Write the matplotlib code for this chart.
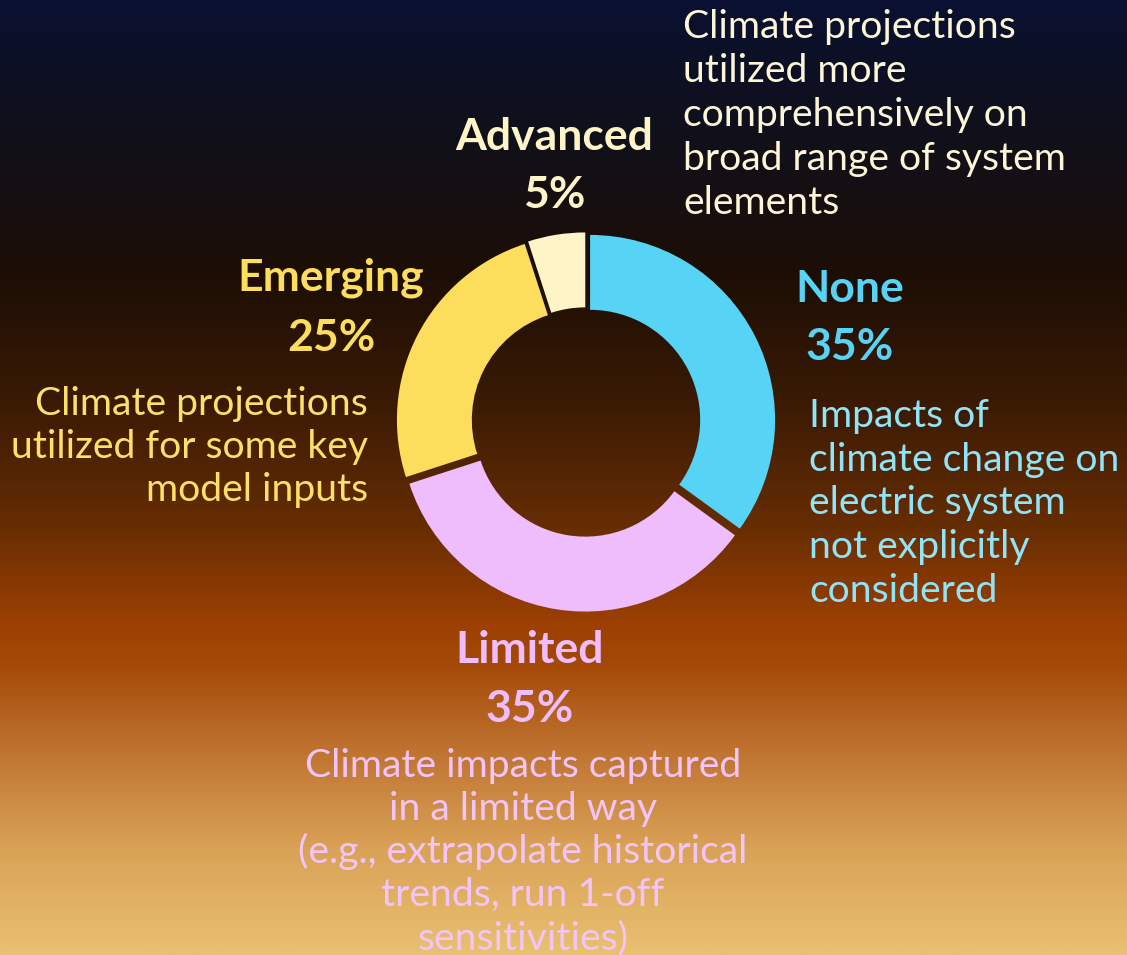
import numpy as np
import matplotlib
matplotlib.use("Agg")
import matplotlib.pyplot as plt
from matplotlib.colors import LinearSegmentedColormap

# ---- data ----
categories = ["None", "Limited", "Emerging", "Advanced"]
shares = [35, 35, 25, 5]
slice_colors = ["#57d3f5", "#f0bdfc", "#fcdd5c", "#fff4c8"]
desc_colors = ["#8fe4f8", "#f3c4f8", "#fbe06a", "#fdf5d8"]
descriptions = [
    "Impacts of\nclimate change on\nelectric system\nnot explicitly\nconsidered",
    "Climate impacts captured\nin a limited way\n(e.g., extrapolate historical\ntrends, run 1-off\nsensitivities)",
    "Climate projections\nutilized for some key\nmodel inputs",
    "Climate projections\nutilized more\ncomprehensively on\nbroad range of system\nelements",
]

W, H = 1127, 955
fig = plt.figure(figsize=(W / 100, H / 100), dpi=100)
ax = fig.add_axes([0, 0, 1, 1])
ax.set_xlim(0, W)
ax.set_ylim(0, H)
ax.set_aspect("equal")
ax.axis("off")

# background gradient (top -> bottom)
stops = [
    (0.00, "#0a1032"),
    (0.05, "#0c1128"),
    (0.16, "#121018"),
    (0.29, "#1d0e04"),
    (0.42, "#3a1a04"),
    (0.55, "#662d03"),
    (0.65, "#9a3f02"),
    (0.70, "#a64a08"),
    (0.79, "#c07432"),
    (0.89, "#d9a256"),
    (1.00, "#e9c070"),
]
cmap = LinearSegmentedColormap.from_list("bg", stops)
grad = np.linspace(0, 1, 600).reshape(-1, 1)
ax.imshow(grad, cmap=cmap, aspect="auto", extent=[0, W, 0, H], origin="upper", zorder=0)

# donut (explode offsets are in data units = pixels here)
cx, cy, R = 586, H - 422, 185
ax.pie(shares, colors=slice_colors, startangle=90, counterclock=False,
       radius=R, center=(cx, cy), explode=[4.6] * 4,
       wedgeprops=dict(width=R * 0.405, linewidth=0), frame=True)
ax.set_xlim(0, W)
ax.set_ylim(0, H)
ax.axis("off")

FONT = "Lato"
HEAD = 32
DESC = 28.2

def ytop(y):
    return H - y

# headings: (x, baseline_label, baseline_pct)
heads = [
    (850, 302, 360),
    (530, 663, 722),
    (331, 291, 351),
    (554, 150, 208),
]
for i, (x, b1, b2) in enumerate(heads):
    ax.text(x, ytop(b1), categories[i], ha="center", va="baseline",
            fontsize=HEAD, fontweight="bold", family=FONT, color=slice_colors[i])
    ax.text(x, ytop(b2), f"{shares[i]}%", ha="center", va="baseline",
            fontsize=HEAD, fontweight="bold", family=FONT, color=slice_colors[i])

# descriptions: (x, first baseline, spacing, ha)
desc_pos = [
    (809, 427, 43.7, "left"),
    (523, 777, 43.0, "center"),
    (368, 415, 43.0, "right"),
    (683, 38, 44.0, "left"),
]
for i, (x, b0, sp, ha) in enumerate(desc_pos):
    for j, line in enumerate(descriptions[i].split("\n")):
        ax.text(x, ytop(b0 + j * sp), line, ha=ha, va="baseline",
                fontsize=DESC, family=FONT, color=desc_colors[i])

fig.savefig("out.png", dpi=100)
